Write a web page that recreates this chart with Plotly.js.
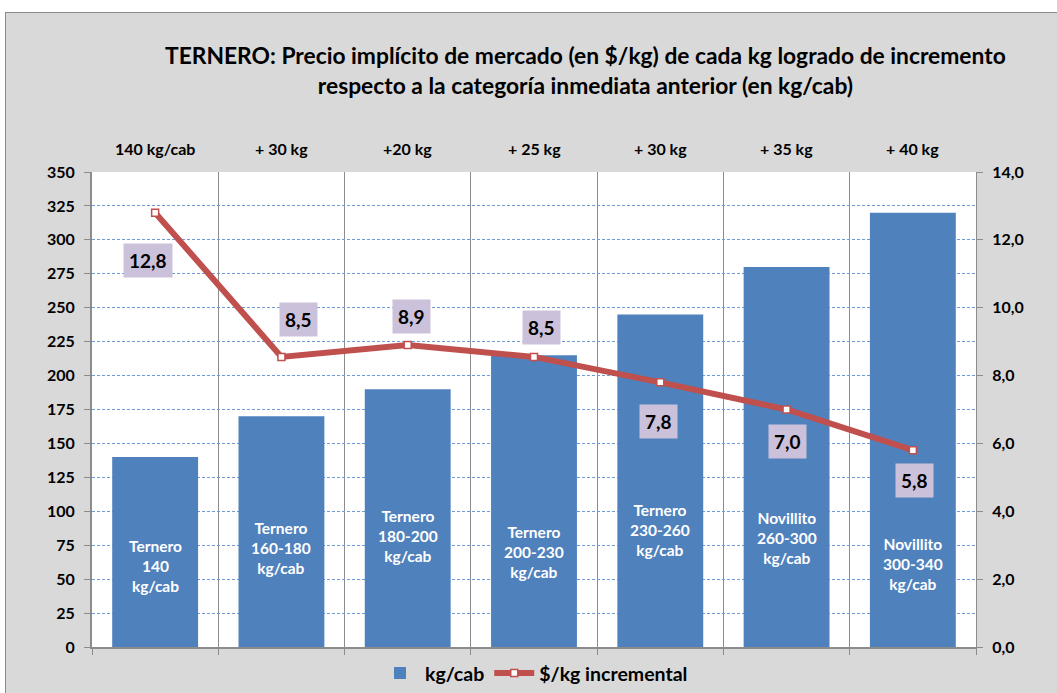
<!DOCTYPE html>
<html><head><meta charset="utf-8">
<script src="https://cdn.plot.ly/plotly-3.0.1.min.js"></script>
<style>
body{margin:0;background:#fff;overflow:hidden;}
#chart{position:absolute;left:5px;top:12px;width:1060px;height:690px;border:1px solid #8c8c8c;}
</style></head><body>
<div id="chart"></div>
<script>
const categories = ["Ternero 140 kg/cab","Ternero 160-180 kg/cab","Ternero 180-200 kg/cab","Ternero 200-230 kg/cab","Ternero 230-260 kg/cab","Novillito 260-300 kg/cab","Novillito 300-340 kg/cab"];
const barLabels = ["Ternero<br>140<br>kg/cab","Ternero<br>160-180<br>kg/cab","Ternero<br>180-200<br>kg/cab","Ternero<br>200-230<br>kg/cab","Ternero<br>230-260<br>kg/cab","Novillito<br>260-300<br>kg/cab","Novillito<br>300-340<br>kg/cab"];
const kgCab = [140,170,190,215,245,280,320];
const precioInc = [12.8,8.55,8.9,8.55,7.8,7.0,5.8];
const precioLabels = ["12,8","8,5","8,9","8,5","7,8","7,0","5,8"];
const topLabels = ["140 kg/cab","+ 30 kg","+20 kg","+ 25 kg","+ 30 kg","+ 35 kg","+ 40 kg"];
const leftTicks = [0,25,50,75,100,125,150,175,200,225,250,275,300,325,350];
const rightTicks = [0,2,4,6,8,10,12,14];
const rightTickText = ["0,0","2,0","4,0","6,0","8,0","10,0","12,0","14,0"];

// style: label offsets (pixels) and in-bar label heights (left-axis units)
const labelShift = [[-7,-48],[17,37],[4,29],[7,29],[-2,-39],[1,-32],[2,-30]];
const barLabelY = [60,73,82,70,86,80,61];

const FONT = "Lato, 'Open Sans', sans-serif";

const annotations = [];
topLabels.forEach((t,i)=>annotations.push({
  x: categories[i], xref:'x', y:1.05, yref:'paper', yanchor:'middle',
  text:'<b>'+t+'</b>', showarrow:false, font:{size:16,color:'#000',family:FONT}
}));
barLabels.forEach((t,i)=>annotations.push({
  x: categories[i], xref:'x', y: barLabelY[i], yref:'y', yanchor:'middle',
  text:'<b>'+t+'</b>', showarrow:false, font:{size:15.5,color:'#fff',family:FONT}
}));
precioLabels.forEach((t,i)=>annotations.push({
  x: categories[i], xref:'x', y: precioInc[i], yref:'y2',
  xshift: labelShift[i][0], yshift: labelShift[i][1],
  text:'<b>'+t+'</b>', showarrow:false, bgcolor:'#ccc1da',
  borderpad:5, font:{size:19,color:'#000',family:FONT}
}));
annotations.push({
  x:0.558, xref:'paper', y:1.215, yref:'paper', yanchor:'middle', showarrow:false,
  text:'<b>TERNERO: Precio implícito de mercado (en $/kg) de cada kg logrado de incremento<br>respecto a la categoría inmediata anterior (en kg/cab)</b>',
  font:{size:22.8,color:'#000',family:FONT}, align:'center'
});

const data = [
  {type:'bar', name:'kg/cab', x:categories, y:kgCab, marker:{color:'#4f81bd'},
   width:0.68, hoverinfo:'skip'},
  {type:'scatter', mode:'lines+markers', name:'$/kg incremental', x:categories, y:precioInc,
   yaxis:'y2', line:{color:'#c0504d',width:6},
   marker:{symbol:'square',size:7,color:'#fff',line:{color:'#c0504d',width:1.5}}, hoverinfo:'skip'}
];

const layout = {
  width:1060, height:690,
  paper_bgcolor:'#d9d9d9', plot_bgcolor:'#fff',
  margin:{l:86,r:90,t:159,b:56},
  font:{family:FONT,color:'#000'},
  showlegend:true,
  legend:{orientation:'h', x:0.5, xanchor:'center', xref:'paper', y:0.043, yref:'container', yanchor:'middle',
    font:{size:19.5,family:FONT,weight:'bold'}, bgcolor:'rgba(0,0,0,0)', itemwidth:40},
  xaxis:{type:'category', tickson:'boundaries', showgrid:true, gridcolor:'#8c8c8c', gridwidth:1,
    showticklabels:false, ticks:'outside', ticklen:6, tickcolor:'#8c8c8c',
    showline:true, linecolor:'#8c8c8c', linewidth:2, range:[-0.5,6.5], fixedrange:true},
  yaxis:{range:[0,350], tickvals:leftTicks, showgrid:true, gridcolor:'#6f9bd8', griddash:'3px,2px',
    gridwidth:1, zeroline:false, showline:true, linecolor:'#8c8c8c', linewidth:2,
    ticks:'outside', ticklen:6, tickcolor:'#8c8c8c', ticklabelstandoff:6,
    tickfont:{size:16,family:FONT,weight:'bold'}},
  yaxis2:{overlaying:'y', side:'right', range:[0,14], tickvals:rightTicks, ticktext:rightTickText,
    showgrid:false, zeroline:false, showline:true, linecolor:'#8c8c8c', linewidth:1,
    ticks:'outside', ticklen:6, tickcolor:'#8c8c8c', ticklabelstandoff:6,
    tickfont:{size:16,family:FONT,weight:'bold'}},
  annotations: annotations
};
Plotly.newPlot('chart', data, layout, {displayModeBar:false, staticPlot:true});
</script>
</body></html>
